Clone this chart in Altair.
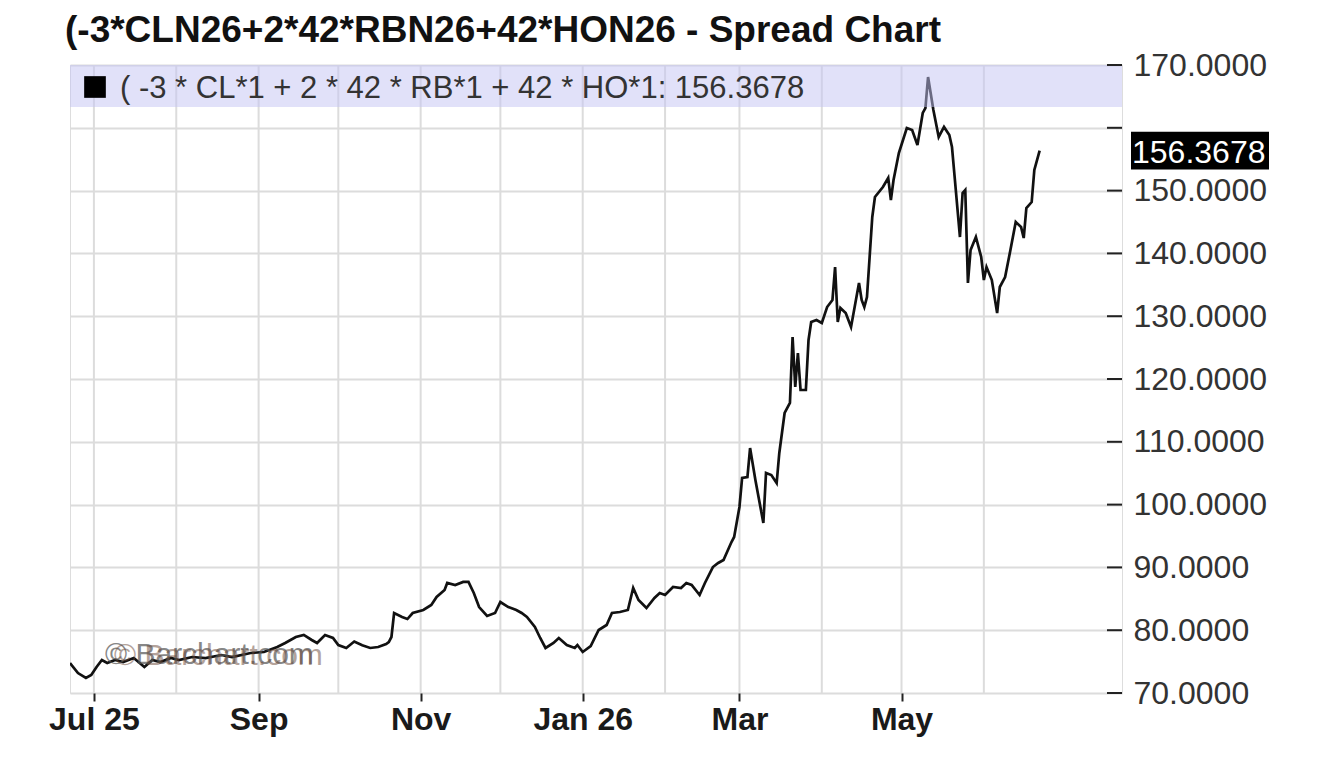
import altair as alt
import pandas as pd

TITLE = "(-3*CLN26+2*42*RBN26+42*HON26 - Spread Chart"
LEGEND_PREFIX = "( -3 * CL*1 + 2 * 42 * RB*1 + 42 * HO*1: "
WATERMARK = "© Barchart.com"

dates = [
    "2025-06-22", "2025-06-25", "2025-06-28", "2025-06-30", "2025-07-02", "2025-07-04",
    "2025-07-06", "2025-07-09", "2025-07-12", "2025-07-16", "2025-07-20", "2025-07-23",
    "2025-07-26", "2025-07-30", "2025-08-02", "2025-08-07", "2025-08-12", "2025-08-18",
    "2025-08-22", "2025-08-29", "2025-09-03", "2025-09-08", "2025-09-11", "2025-09-15",
    "2025-09-18", "2025-09-21", "2025-09-23", "2025-09-26", "2025-09-29", "2025-10-01",
    "2025-10-04", "2025-10-07", "2025-10-10", "2025-10-13", "2025-10-16", "2025-10-19",
    "2025-10-20", "2025-10-21", "2025-10-22", "2025-10-25", "2025-10-27", "2025-10-29",
    "2025-11-02", "2025-11-05", "2025-11-07", "2025-11-10", "2025-11-11", "2025-11-14",
    "2025-11-17", "2025-11-19", "2025-11-21", "2025-11-23", "2025-11-26", "2025-11-29",
    "2025-12-01", "2025-12-04", "2025-12-07", "2025-12-09", "2025-12-11", "2025-12-14",
    "2025-12-16", "2025-12-18", "2025-12-21", "2025-12-23", "2025-12-26", "2025-12-29",
    "2025-12-30", "2026-01-01", "2026-01-04", "2026-01-07", "2026-01-10", "2026-01-12",
    "2026-01-15", "2026-01-18", "2026-01-20", "2026-01-22", "2026-01-25", "2026-01-28",
    "2026-01-30", "2026-02-01", "2026-02-04", "2026-02-07", "2026-02-09", "2026-02-11",
    "2026-02-14", "2026-02-16", "2026-02-19", "2026-02-21", "2026-02-23", "2026-02-26",
    "2026-02-27", "2026-03-01", "2026-03-02", "2026-03-04", "2026-03-05", "2026-03-07",
    "2026-03-10", "2026-03-11", "2026-03-13", "2026-03-15", "2026-03-16", "2026-03-18",
    "2026-03-20", "2026-03-21", "2026-03-22", "2026-03-23", "2026-03-24", "2026-03-26",
    "2026-03-27", "2026-03-28", "2026-03-30", "2026-04-01", "2026-04-03", "2026-04-05",
    "2026-04-06", "2026-04-07", "2026-04-08", "2026-04-10", "2026-04-12", "2026-04-15",
    "2026-04-16", "2026-04-17", "2026-04-18", "2026-04-20", "2026-04-21", "2026-04-24",
    "2026-04-26", "2026-04-27", "2026-04-28", "2026-04-30", "2026-05-03", "2026-05-05",
    "2026-05-07", "2026-05-09", "2026-05-10", "2026-05-11", "2026-05-13", "2026-05-15",
    "2026-05-17", "2026-05-19", "2026-05-20", "2026-05-21", "2026-05-23", "2026-05-24",
    "2026-05-25", "2026-05-26", "2026-05-27", "2026-05-29", "2026-05-31", "2026-06-01",
    "2026-06-02", "2026-06-04", "2026-06-06", "2026-06-07", "2026-06-09", "2026-06-11",
    "2026-06-13", "2026-06-15", "2026-06-16", "2026-06-17", "2026-06-19", "2026-06-20",
    "2026-06-22",
]

values = [
    74.78, 73.18, 72.39, 72.87, 74.14, 75.25,
    74.78, 75.25, 74.94, 75.57, 74.14, 75.25,
    74.94, 75.57, 75.25, 75.73, 75.57, 76.05,
    75.73, 76.37, 76.53, 77.32, 77.96, 78.92,
    79.24, 78.44, 77.96, 79.24, 78.76, 77.64,
    77.17, 78.20, 77.60, 77.17, 77.32, 77.80,
    78.12, 78.92, 82.74, 82.10, 81.78, 82.74,
    83.22, 84.01, 85.29, 86.40, 87.52, 87.20,
    87.68, 87.68, 85.92, 83.69, 82.26, 82.74,
    84.49, 83.69, 83.22, 82.74, 82.10, 80.51,
    78.76, 77.17, 77.96, 78.76, 77.64, 77.17,
    77.64, 76.53, 77.48, 80.03, 80.83, 82.74,
    82.90, 83.22, 86.72, 84.81, 83.54, 85.13,
    85.92, 85.61, 86.88, 86.72, 87.52, 87.20,
    85.61, 87.52, 90.06, 90.70, 91.18, 94.04,
    94.84, 99.62, 104.24, 104.39, 109.01, 103.92,
    97.07, 105.03, 104.71, 103.44, 108.22, 114.59,
    116.18, 126.69, 118.73, 124.14, 118.25, 118.25,
    126.21, 129.08, 129.39, 128.92, 131.46, 132.58,
    137.83, 129.08, 131.31, 130.51, 128.28, 135.29,
    132.58, 131.46, 133.06, 145.80, 148.98, 150.57,
    152.01, 148.50, 151.69, 155.99, 159.97, 159.65,
    157.26, 162.36, 163.15, 168.09, 162.83, 158.54,
    160.13, 158.85, 156.94, 152.17, 142.61, 149.62,
    150.10, 135.29, 140.54, 142.61, 139.43, 135.76,
    137.83, 135.76, 130.51, 134.65, 136.24, 140.54,
    145.00, 144.20, 142.45, 147.23, 148.18, 153.28,
    156.3678,
]

month_starts = [
    "2025-07-01", "2025-08-01", "2025-09-01", "2025-10-01", "2025-11-01", "2025-12-01",
    "2026-01-01", "2026-02-01", "2026-03-01", "2026-04-01", "2026-05-01", "2026-06-01",
]
label_months = ["2025-07-01", "2025-09-01", "2025-11-01", "2026-01-01", "2026-03-01", "2026-05-01"]
y_ticks = [70, 80, 90, 100, 110, 120, 130, 140, 150, 160, 170]
x_domain = ["2025-06-22", "2026-07-23"]

W, H = 1052, 628
FONT = "Liberation Sans"


def ms(s):
    return int(pd.Timestamp(s, tz="UTC").value // 10**6)


df = pd.DataFrame({"date": [ms(d) for d in dates], "value": values})
last = df.iloc[[-1]].copy()
last["label"] = f"{values[-1]:.4f}"
months_df = pd.DataFrame({"date": [ms(d) for d in month_starts]})
yt_df = pd.DataFrame({"v": y_ticks})

xscale = alt.Scale(type="utc", domain=[ms(d) for d in x_domain])
yscale = alt.Scale(domain=[70, 170], nice=False, zero=False)

label_expr = (
    "utcFormat(datum.value, '%m') == '07' ? 'Jul 25' : "
    "(utcFormat(datum.value, '%m') == '01' ? 'Jan 26' : utcFormat(datum.value, '%b'))"
)

x_axis = alt.Axis(
    values=[ms(d) for d in label_months],
    labelExpr=label_expr,
    grid=False,
    domain=False,
    ticks=True,
    tickSize=8,
    tickWidth=2,
    tickColor="#222",
    labelPadding=3,
    labelFont=FONT,
    labelFontSize=32,
    labelFontWeight="bold",
    labelColor="#1a1a1a",
    labelFlush=False,
    labelOverlap=False,
    title=None,
)

# the 160 label is hidden behind the last-price box in the reference
y_axis = alt.Axis(
    orient="right",
    values=y_ticks,
    labelExpr="datum.value == 160 ? '' : format(datum.value, '.4f')",
    grid=True,
    gridColor="#dcdcdc",
    gridWidth=2,
    domain=False,
    ticks=False,
    tickSize=0,
    labelPadding=11,
    labelFont=FONT,
    labelFontSize=32,
    labelColor="#333",
    labelOverlap=False,
    title=None,
)

base_line = alt.Chart(df).mark_line(color="#111", strokeWidth=2.7, clip=True).encode(
    x=alt.X("date:T", scale=xscale, axis=x_axis),
    y=alt.Y("value:Q", scale=yscale, axis=y_axis),
)

vgrid = alt.Chart(months_df).mark_rule(color="#dcdcdc", strokeWidth=2).encode(
    x=alt.X("date:T", scale=xscale),
)

inner_ticks = alt.Chart(yt_df).mark_rule(color="#222", strokeWidth=2).encode(
    y=alt.Y("v:Q", scale=yscale),
    x=alt.value(W - 15),
    x2=alt.value(W),
)

band = alt.Chart(last).mark_rect(color="#c4c4f4", opacity=0.5).encode(
    x=alt.value(0), x2=alt.value(W), y=alt.value(0), y2=alt.value(42)
)

legend_sq = alt.Chart(last).mark_square(color="#000", size=470, opacity=1, filled=True).encode(
    x=alt.value(25), y=alt.value(22)
)

legend_txt = alt.Chart(last).mark_text(
    align="left", baseline="middle", font=FONT, fontSize=31, color="#333"
).encode(
    x=alt.value(50), y=alt.value(24),
    text=alt.value(LEGEND_PREFIX + f"{values[-1]:.4f}"),
)

title_txt = alt.Chart(last).mark_text(
    align="left", baseline="alphabetic", font=FONT, fontSize=37, fontWeight="bold", color="#111"
).encode(x=alt.value(-5), y=alt.value(-23), text=alt.value(TITLE))

price_box = alt.Chart(last).transform_calculate(
    top="datum.value + 3.0", bot="datum.value - 3.0"
).mark_rect(color="#000").encode(
    x=alt.value(W + 9), x2=alt.value(W + 147),
    y=alt.Y("top:Q", scale=yscale), y2="bot:Q",
)

price_txt = alt.Chart(last).mark_text(
    align="left", baseline="middle", font=FONT, fontSize=32, color="#fff", dy=2
).encode(
    x=alt.value(W + 10), y=alt.Y("value:Q", scale=yscale), text="label:N"
)

wm1 = alt.Chart(last).mark_text(
    align="left", baseline="middle", font=FONT, fontSize=30, color="#555", opacity=0.7
).encode(x=alt.value(35), y=alt.value(590), text=alt.value(WATERMARK))

wm2 = alt.Chart(last).mark_text(
    align="left", baseline="middle", font=FONT, fontSize=30, color="#6b4a3a", opacity=0.5
).encode(x=alt.value(44), y=alt.value(591), text=alt.value(WATERMARK))

chart = alt.layer(
    vgrid, base_line, wm1, wm2, band, legend_sq, legend_txt, inner_ticks,
    price_box, price_txt, title_txt,
).properties(
    width=W,
    height=H,
    autosize=alt.AutoSizeParams(type="none"),
    padding={"left": 62, "top": 57, "right": 190, "bottom": 60},
).configure_view(
    stroke="#8c8c8c", strokeWidth=2
).configure(background="white")

chart.save("out.html", embed_options={"renderer": "svg", "actions": False})
